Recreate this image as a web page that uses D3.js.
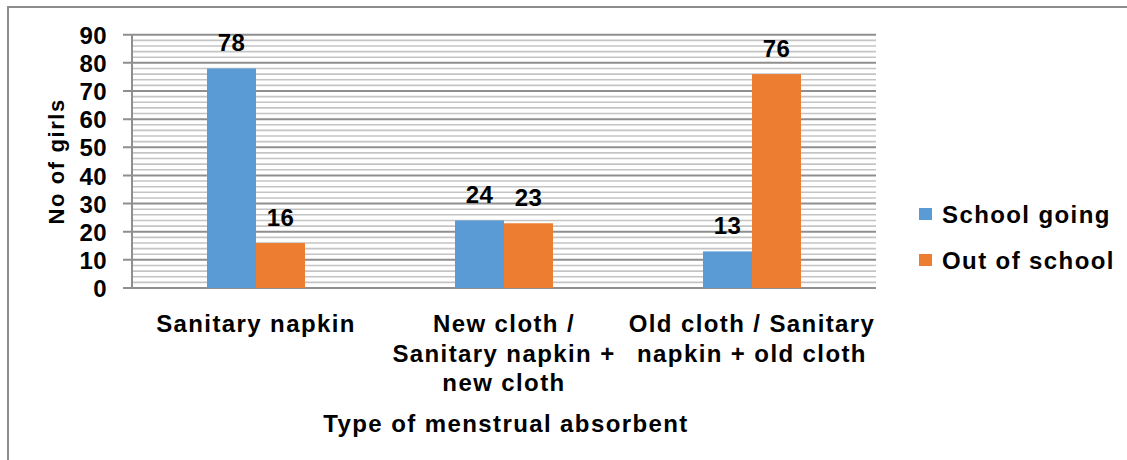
<!DOCTYPE html>
<html><head><meta charset="utf-8">
<script src="https://cdn.jsdelivr.net/npm/d3@7"></script>
<style>body{margin:0;background:#fff}svg{display:block}text{font-family:"Liberation Sans",Arial,sans-serif;font-weight:bold;fill:#000}</style>
</head><body><svg id="c" width="1127" height="460"></svg>
<script>
const categories = ["Sanitary napkin", "New cloth / Sanitary napkin + new cloth", "Old cloth / Sanitary napkin + old cloth"];
const categoryLines = [["Sanitary napkin"], ["New cloth /", "Sanitary napkin +", "new cloth"], ["Old cloth / Sanitary", "napkin + old cloth"]];
const seriesNames = ["School going", "Out of school"];
const schoolGoing = [78, 24, 13];
const outOfSchool = [16, 23, 76];
const yTicks = [0, 10, 20, 30, 40, 50, 60, 70, 80, 90];
const colors = ["#5b9bd5", "#ed7d31"];

const svg = d3.select("#c");
const pLeft = 132, pRight = 876, pTop = 34.7, pBottom = 288;
const x = d3.scaleBand().domain(categories).range([pLeft, pRight]);
const y = d3.scaleLinear().domain([0, 90]).range([pBottom, pTop]);
const barW = 49;
const xs = d3.scaleBand().domain(seriesNames).range([-barW, barW]);

// frame
svg.append("rect").attr("x", 8).attr("y", 7).attr("width", 1140).attr("height", 480)
  .attr("fill", "none").attr("stroke", "#8c8c8c").attr("stroke-width", 2);

// minor grid
svg.append("g").selectAll("line").data(d3.range(0, 91, 2).filter(v => v % 10 !== 0)).join("line")
  .attr("x1", pLeft).attr("x2", pRight).attr("y1", d => y(d)).attr("y2", d => y(d))
  .attr("stroke", "#c4c4c4").attr("stroke-width", 1.6);
// major grid
svg.append("g").selectAll("line").data(yTicks).join("line")
  .attr("x1", pLeft - 9).attr("x2", pRight).attr("y1", d => y(d)).attr("y2", d => y(d))
  .attr("stroke", "#8f8f8f").attr("stroke-width", 2);
// y axis line
svg.append("line").attr("x1", pLeft).attr("x2", pLeft).attr("y1", pTop).attr("y2", pBottom + 1)
  .attr("stroke", "#8f8f8f").attr("stroke-width", 2);

// y tick labels via axis
const yAxis = svg.append("g").attr("transform", `translate(${pLeft - 25},0)`)
  .call(d3.axisLeft(y).tickValues(yTicks).tickSize(0).tickPadding(0));
yAxis.select(".domain").remove();
yAxis.selectAll("text").attr("font-size", 24).attr("font-family", '"Liberation Sans",Arial,sans-serif')
  .attr("font-weight", "bold").attr("fill", "#000").attr("dy", "0.36em").style("letter-spacing", "0.4px");

// bars
const series = [schoolGoing, outOfSchool];
series.forEach((vals, si) => {
  const g = svg.append("g");
  g.selectAll("rect").data(vals).join("rect")
    .attr("x", (d, i) => x(categories[i]) + x.bandwidth() / 2 + xs(seriesNames[si]))
    .attr("y", d => y(d)).attr("width", xs.bandwidth()).attr("height", d => pBottom - y(d))
    .attr("fill", colors[si]);
  g.selectAll("text").data(vals).join("text")
    .attr("x", (d, i) => x(categories[i]) + x.bandwidth() / 2 + xs(seriesNames[si]) + xs.bandwidth() / 2)
    .attr("y", d => y(d) - 17).attr("text-anchor", "middle").attr("font-size", 24)
    .style("letter-spacing", "0.4px").text(d => d);
});

// category labels
categoryLines.forEach((lines, i) => {
  const t = svg.append("text").attr("text-anchor", "middle").attr("font-size", 24).style("letter-spacing", "1.4px");
  lines.forEach((ln, j) => {
    t.append("tspan").attr("x", x(categories[i]) + x.bandwidth() / 2).attr("y", 332 + j * 29.5).text(ln);
  });
});

// axis titles
svg.append("text").attr("x", (pLeft + pRight) / 2 + 2).attr("y", 432).attr("text-anchor", "middle")
  .attr("font-size", 24).style("letter-spacing", "1.4px").text("Type of menstrual absorbent");
svg.append("text").attr("transform", `translate(64,${(pTop + pBottom) / 2}) rotate(-90)`)
  .attr("text-anchor", "middle").attr("font-size", 22).style("letter-spacing", "1.6px").text("No of girls");

// legend
const lg = svg.append("g").selectAll("g").data(seriesNames).join("g")
  .attr("transform", (d, i) => `translate(919,${208 + i * 46})`);
lg.append("rect").attr("width", 13).attr("height", 12).attr("fill", (d, i) => colors[i]);
lg.append("text").attr("x", 23).attr("y", 15).attr("font-size", 24).style("letter-spacing", "1.4px").text(d => d);
</script></body></html>
